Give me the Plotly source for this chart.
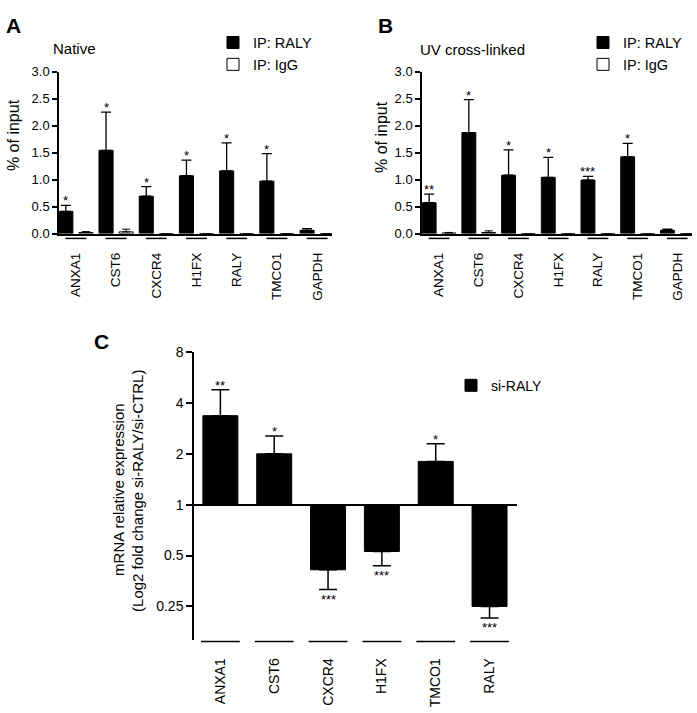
import plotly.graph_objects as go

# ---------------- data ----------------
genes_ab = ["ANXA1", "CST6", "CXCR4", "H1FX", "RALY", "TMCO1", "GAPDH"]

native_raly = [0.41, 1.54, 0.69, 1.07, 1.16, 0.97, 0.06]
native_raly_sem = [0.11, 0.71, 0.18, 0.29, 0.52, 0.51, 0.03]
native_igg = [0.02, 0.03, 0.0, 0.0, 0.0, 0.0, 0.0]
native_igg_sem = [0.015, 0.05, None, None, None, None, None]
native_stars = ["*", "*", "*", "*", "*", "*", ""]

uv_raly = [0.57, 1.87, 1.08, 1.04, 0.99, 1.42, 0.06]
uv_raly_sem = [0.16, 0.61, 0.47, 0.37, 0.07, 0.25, 0.02]
uv_igg = [0.01, 0.02, 0.0, 0.0, 0.0, 0.0, 0.0]
uv_igg_sem = [0.01, 0.03, None, None, None, None, None]
uv_stars = ["**", "*", "*", "*", "***", "*", ""]

ab_ticks = [0.0, 0.5, 1.0, 1.5, 2.0, 2.5, 3.0]

genes_c = ["ANXA1", "CST6", "CXCR4", "H1FX", "TMCO1", "RALY"]
siraly_log2fc = [1.75, 1.0, -1.28, -0.92, 0.85, -2.0]
siraly_sem_log2 = [0.51, 0.35, 0.39, 0.28, 0.35, 0.23]
siraly_stars = ["**", "*", "***", "***", "*", "***"]
c_tickvals = [-2, -1, 0, 1, 2, 3]
c_ticktext = ["0.25", "0.5", "1", "2", "4", "8"]

FONT = "Arial, 'Liberation Sans', sans-serif"
W, H = 697, 713


def px(x):
    return x / W


def py(y):
    return 1 - y / H


fig = go.Figure()

# ---------------- panel A / B bars ----------------
panels = [
    ("x", "y", "legend", native_raly, native_raly_sem, native_igg, native_igg_sem, native_stars),
    ("x2", "y2", "legend2", uv_raly, uv_raly_sem, uv_igg, uv_igg_sem, uv_stars),
]
for xa, ya, lg, raly, raly_sem, igg, igg_sem, stars in panels:
    fig.add_trace(go.Bar(
        x=genes_ab, y=raly, name="IP: RALY", xaxis=xa, yaxis=ya, legend=lg,
        marker=dict(color="black", line=dict(color="black", width=1)),
        error_y=dict(type="data", array=raly_sem, arrayminus=[0] * len(raly),
                     symmetric=False, color="black", thickness=1.3, width=5),
    ))
    fig.add_trace(go.Bar(
        x=genes_ab, y=igg, name="IP: IgG", xaxis=xa, yaxis=ya, legend=lg,
        marker=dict(color="white", line=dict(color="black", width=1)),
        error_y=dict(type="data", array=igg_sem,
                     arrayminus=[0 if e is not None else None for e in igg_sem],
                     symmetric=False, color="black", thickness=1, width=4),
    ))
    for i, s in enumerate(stars):
        if s:
            fig.add_annotation(x=i - 0.25, y=raly[i] + raly_sem[i], xref=xa, yref=ya,
                               text=s, showarrow=False, yanchor="bottom", yshift=-5,
                               font=dict(size=13, color="black", family=FONT))

# ---------------- panel C bars ----------------
fig.add_trace(go.Bar(
    x=genes_c, y=siraly_log2fc, name="si-RALY", xaxis="x3", yaxis="y3", legend="legend3",
    width=0.65,
    marker=dict(color="black", line=dict(color="black", width=1)),
    error_y=dict(type="data",
                 array=[s if v > 0 else 0 for v, s in zip(siraly_log2fc, siraly_sem_log2)],
                 arrayminus=[s if v < 0 else 0 for v, s in zip(siraly_log2fc, siraly_sem_log2)],
                 symmetric=False, color="black", thickness=1.5, width=9),
))
for i, s in enumerate(siraly_stars):
    v, e = siraly_log2fc[i], siraly_sem_log2[i]
    if v > 0:
        fig.add_annotation(x=i, y=v + e, xref="x3", yref="y3", text=s, showarrow=False,
                           yanchor="bottom", yshift=-5,
                           font=dict(size=13, color="black", family=FONT))
    else:
        fig.add_annotation(x=i, y=v - e, xref="x3", yref="y3", text=s, showarrow=False,
                           yanchor="top", yshift=0,
                           font=dict(size=13, color="black", family=FONT))

# ---------------- underline segments below categories ----------------
shapes = []
for xa in ("x", "x2"):
    for i in range(len(genes_ab)):
        shapes.append(dict(type="line", xref=xa, yref="paper", x0=i - 0.26, x1=i + 0.26,
                           y0=py(235.7), y1=py(235.7), line=dict(color="black", width=1.5)))
for i in range(len(genes_c)):
    shapes.append(dict(type="line", xref="x3", yref="paper", x0=i - 0.36, x1=i + 0.36,
                       y0=py(648), y1=py(648), line=dict(color="black", width=1.5)))

# ---------------- axes ----------------
common_x = dict(type="category", showline=True, linecolor="black", linewidth=1.5,
                ticks="", tickangle=-90, showgrid=False, zeroline=False,
                tickfont=dict(size=13.5, color="black", family=FONT), ticklabelstandoff=12)
common_y = dict(range=[0, 3.0], tickvals=ab_ticks, tickformat=".1f", showline=True,
                linecolor="black", linewidth=1.5, ticks="outside", ticklen=5, tickwidth=1.5,
                tickcolor="black", showgrid=False, zeroline=False,
                tickfont=dict(size=13, color="black", family=FONT))

fig.update_layout(
    width=W, height=H, autosize=False,
    margin=dict(l=0, r=0, t=0, b=0),
    paper_bgcolor="white", plot_bgcolor="white",
    barmode="group", bargap=0.0, bargroupgap=0.3,
    font=dict(family=FONT, color="black"),
    xaxis=dict(common_x, domain=[px(59), px(332)], range=[-0.42, 6.37], anchor="y"),
    yaxis=dict(common_y, domain=[py(230.7), py(65)], anchor="x"),
    xaxis2=dict(common_x, domain=[px(422), px(692)], range=[-0.43, 6.37], anchor="y2"),
    yaxis2=dict(common_y, domain=[py(230.7), py(65)], anchor="x2"),
    xaxis3=dict(type="category", showline=False, ticks="", tickangle=-90, showgrid=False,
                zeroline=False, domain=[px(194), px(517)], range=[-0.49, 5.51], anchor="y3",
                tickfont=dict(size=14, color="black", family=FONT), ticklabelstandoff=14),
    yaxis3=dict(range=[-2.67, 3.0], tickvals=c_tickvals, ticktext=c_ticktext, showline=True,
                linecolor="black", linewidth=1.5, ticks="outside", ticklen=6, tickwidth=1.5,
                tickcolor="black", showgrid=False, zeroline=True, zerolinecolor="black",
                zerolinewidth=1.5, domain=[py(647), py(352)], anchor="x3",
                tickfont=dict(size=14, color="black", family=FONT)),
    legend=dict(x=px(213), y=py(19), xanchor="left", yanchor="top",
                font=dict(size=14.5, color="black", family=FONT), bgcolor="rgba(0,0,0,0)",
                tracegroupgap=0),
    legend2=dict(x=px(583), y=py(19), xanchor="left", yanchor="top",
                 font=dict(size=14.5, color="black", family=FONT), bgcolor="rgba(0,0,0,0)",
                 tracegroupgap=0),
    legend3=dict(x=px(451), y=py(370), xanchor="left", yanchor="top",
                 font=dict(size=14, color="black", family=FONT), bgcolor="rgba(0,0,0,0)"),
    shapes=shapes,
)

# ---------------- text annotations ----------------
texts = [
    ("A", 13, 17.5, 21, True, 0),
    ("B", 385, 17.5, 21, True, 0),
    ("C", 101, 341.5, 21, True, 0),
    ("Native", 74, 41, 15, False, 0),
    ("UV cross-linked", 472, 42, 15, False, 0),
    ("% of input", 13, 130, 16, False, -90),
    ("% of input", 381, 132, 16, False, -90),
    ("mRNA relative expression", 119, 493, 15, False, -90),
    ("(Log2 fold change si-RALY/si-CTRL)", 138, 494, 15, False, -90),
]
for t, x, y, size, bold, ang in texts:
    fig.add_annotation(x=px(x), y=py(y), xref="paper", yref="paper",
                       text=f"<b>{t}</b>" if bold else t, showarrow=False,
                       xanchor="center", yanchor="middle", textangle=ang,
                       font=dict(size=size, color="black", family=FONT))

fig.write_html("out.html", config={"displayModeBar": False},
               post_script="document.body.style.margin='0';")
